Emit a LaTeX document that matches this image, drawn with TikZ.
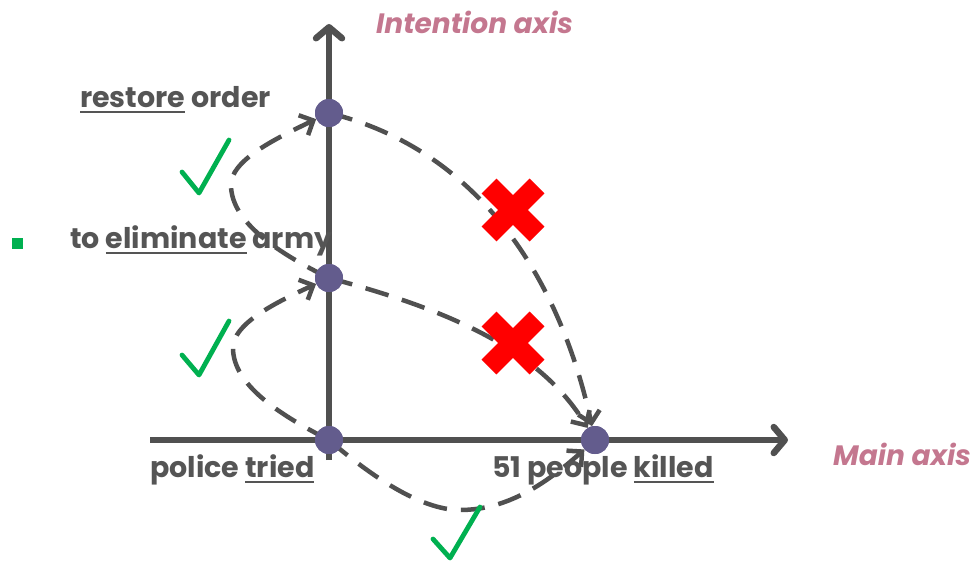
\documentclass[tikz,border=0pt]{standalone}
\usepackage{fontspec}
\setmainfont{Poppins}
\usetikzlibrary{arrows.meta}
\definecolor{axgray}{HTML}{505050}
\definecolor{txgray}{HTML}{555555}
\definecolor{dotfill}{HTML}{635C8D}
\definecolor{pinkl}{HTML}{C4778F}
\definecolor{okgreen}{HTML}{00B050}
\definecolor{xred}{HTML}{FF0000}
\newcommand\ulx[1]{\setbox0\hbox{#1}\rlap{\rule[-5.5pt]{\wd0}{2pt}}\box0\relax}
\tikzset{
  dot/.style={circle,fill=dotfill,minimum size=28pt,inner sep=0pt},
  axisline/.style={line width=6.5pt,draw=axgray,line cap=butt,
     -{Straight Barb[length=11pt,width=26pt,line width=6.5pt,round]}},
  flow/.style={line width=4.5pt,draw=axgray,dash pattern=on 24pt off 14pt,
     -{Straight Barb[length=11pt,width=22pt,line width=4.5pt]}},
  lbl/.style={anchor=base west,inner sep=0pt,text=txgray,font=\bfseries\fontsize{28.5}{31}\selectfont},
  axlbl/.style={anchor=base west,inner sep=0pt,text=pinkl,font=\bfseries\itshape\fontsize{28}{30}\selectfont},
  tick/.style={draw=okgreen,line width=4.8pt,line cap=round,line join=round},
  cross/.style={draw=xred,line width=21pt,line cap=butt}
}
\begin{document}
\begin{tikzpicture}[x=1pt,y=-1pt]
\useasboundingbox (0,0) rectangle (976,563);
% axes
\coordinate (vb) at (329,460);
\coordinate (vt) at (329,24);
\coordinate (hl) at (150,440);
\coordinate (hr) at (788,440);
\draw[axisline] (vb) -- (vt);
\draw[axisline] (hl) -- (hr);
% nodes
\node[dot] (top) at (329,113) {};
\node[dot] (mid) at (329,278) {};
\node[dot] (org) at (329,440) {};
\node[dot] (kil) at (595,440) {};
% turning points of the loops
\coordinate (w1) at (233,348);
\coordinate (w2) at (231,185);
\coordinate (b1) at (460,510);
% dashed flows
\draw[flow] (org.center) .. controls (280,415) and (233,385) .. (w1)
   .. controls (233,325) and (270,305) .. (mid);
\draw[flow] (mid.center) .. controls (278,253) and (231,222) .. (w2)
   .. controls (231,162) and (268,142) .. (top);
\draw[flow] (top.center) .. controls (480,150) and (560,280) .. (kil);
\draw[flow] (mid.center) .. controls (450,310) and (540,350) .. (kil);
\draw[flow] (org.center) .. controls (370,475) and (420,510) .. (b1)
   .. controls (510,510) and (550,480) .. (kil);
% redraw nodes on top
\node[dot] at (top) {};
\node[dot] at (mid) {};
\node[dot] at (org) {};
\node[dot] at (kil) {};
% labels
\node[lbl] (l1) at (80,107) {\ulx{restore} order};
\node[lbl] (l2) at (70,248) {to \ulx{eliminate} army};
\node[lbl] (l3) at (150,477) {police \ulx{tried}};
\node[lbl] (l4) at (492,477) {51 people \ulx{killed}};
\node[axlbl] (ax1) at (376,33) {Intention axis};
\node[axlbl] (ax2) at (833,465) {Main axis};
% bullet
\fill[okgreen] (12,238) rectangle (23,249);
% ticks
\draw[tick] (182,172) -- (199,193) -- (229,140);
\draw[tick] (182,355) -- (199,375) -- (229,321);
\draw[tick] (433,539) -- (450,558) -- (480,507);
% crosses
\draw[cross] (489,186) -- (537,234);
\draw[cross] (537,186) -- (489,234);
\draw[cross] (489,319) -- (537,367);
\draw[cross] (537,319) -- (489,367);
\end{tikzpicture}
\end{document}
